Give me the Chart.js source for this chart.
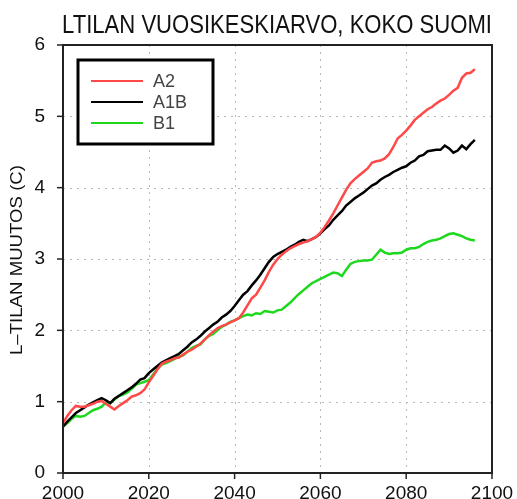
<!DOCTYPE html>
<html>
<head>
    <title>LTILAN VUOSIKESKIARVO, KOKO SUOMI</title>
    <style>
        body {
            margin: 0;
            background-color: #fff;
        }
    </style>
    <script src="https://cdn.jsdelivr.net/npm/chart.js"></script>
</head>
<body>
    <canvas id="chart" width="517" height="499"></canvas>
    <script>
        var titleText = 'LTILAN VUOSIKESKIARVO, KOKO SUOMI';
        var yTitleText = 'L\u2013TILAN MUUTOS (C)';

        var years = [2000, 2001, 2002, 2003, 2004, 2005, 2006, 2007, 2008, 2009,
                     2010, 2011, 2012, 2013, 2014, 2015, 2016, 2017, 2018, 2019,
                     2020, 2021, 2022, 2023, 2024, 2025, 2026, 2027, 2028, 2029,
                     2030, 2031, 2032, 2033, 2034, 2035, 2036, 2037, 2038, 2039,
                     2040, 2041, 2042, 2043, 2044, 2045, 2046, 2047, 2048, 2049,
                     2050, 2051, 2052, 2053, 2054, 2055, 2056, 2057, 2058, 2059,
                     2060, 2061, 2062, 2063, 2064, 2065, 2066, 2067, 2068, 2069,
                     2070, 2071, 2072, 2073, 2074, 2075, 2076, 2077, 2078, 2079,
                     2080, 2081, 2082, 2083, 2084, 2085, 2086, 2087, 2088, 2089,
                     2090, 2091, 2092, 2093, 2094, 2095, 2096];

        var a2 = [0.70, 0.80, 0.88, 0.94, 0.93, 0.93, 0.95, 0.97, 1.00, 1.01,
                  0.97, 0.93, 0.89, 0.94, 0.98, 1.02, 1.07, 1.09, 1.12, 1.17,
                  1.27, 1.36, 1.45, 1.53, 1.56, 1.58, 1.61, 1.62, 1.66, 1.70,
                  1.73, 1.77, 1.81, 1.87, 1.93, 1.98, 2.03, 2.06, 2.08, 2.11,
                  2.14, 2.17, 2.25, 2.35, 2.45, 2.50, 2.60, 2.70, 2.82, 2.92,
                  3.00, 3.06, 3.11, 3.15, 3.18, 3.21, 3.23, 3.25, 3.28, 3.31,
                  3.37, 3.45, 3.54, 3.64, 3.75, 3.86, 3.97, 4.06, 4.12, 4.17,
                  4.22, 4.27, 4.35, 4.37, 4.38, 4.41, 4.47, 4.57, 4.69, 4.74,
                  4.80, 4.87, 4.95, 5.00, 5.05, 5.10, 5.13, 5.18, 5.22, 5.25,
                  5.30, 5.36, 5.40, 5.54, 5.60, 5.61, 5.66];

        var a1b = [0.65, 0.72, 0.78, 0.84, 0.88, 0.92, 0.96, 0.99, 1.02, 1.05,
                   1.02, 0.98, 1.04, 1.08, 1.12, 1.16, 1.20, 1.25, 1.31, 1.33,
                   1.40, 1.45, 1.50, 1.55, 1.58, 1.61, 1.64, 1.67, 1.72, 1.77,
                   1.83, 1.87, 1.92, 1.98, 2.03, 2.08, 2.12, 2.18, 2.22, 2.27,
                   2.34, 2.42, 2.50, 2.55, 2.63, 2.70, 2.78, 2.87, 2.96, 3.03,
                   3.07, 3.10, 3.13, 3.17, 3.20, 3.24, 3.27, 3.25, 3.28, 3.31,
                   3.36, 3.42, 3.47, 3.55, 3.61, 3.67, 3.75, 3.80, 3.85, 3.89,
                   3.93, 3.98, 4.03, 4.06, 4.11, 4.15, 4.18, 4.22, 4.25, 4.28,
                   4.30, 4.35, 4.38, 4.44, 4.46, 4.51, 4.52, 4.53, 4.53, 4.59,
                   4.55, 4.49, 4.52, 4.59, 4.54, 4.61, 4.67];

        var b1 = [0.65, 0.70, 0.76, 0.80, 0.79, 0.80, 0.84, 0.88, 0.90, 0.93,
                  0.99, 0.98, 1.03, 1.08, 1.10, 1.13, 1.18, 1.24, 1.26, 1.28,
                  1.30, 1.38, 1.46, 1.52, 1.54, 1.57, 1.60, 1.63, 1.65, 1.70,
                  1.75, 1.78, 1.80, 1.87, 1.92, 1.95, 2.00, 2.05, 2.08, 2.12,
                  2.14, 2.17, 2.20, 2.22, 2.21, 2.24, 2.23, 2.27, 2.26, 2.25,
                  2.28, 2.29, 2.34, 2.39, 2.45, 2.51, 2.56, 2.61, 2.66, 2.69,
                  2.72, 2.75, 2.78, 2.81, 2.80, 2.76, 2.85, 2.93, 2.96, 2.97,
                  2.98, 2.98, 2.99, 3.06, 3.13, 3.09, 3.07, 3.08, 3.08, 3.09,
                  3.13, 3.15, 3.15, 3.17, 3.21, 3.24, 3.26, 3.27, 3.29, 3.32,
                  3.35, 3.36, 3.34, 3.32, 3.29, 3.27, 3.26];

        var seriesNames = ['A2', 'A1B', 'B1'];
        var seriesColors = ['#ff4848', '#000000', '#1ed81e'];
        var xTicks = [2000, 2020, 2040, 2060, 2080, 2100];
        var yTicks = [0, 1, 2, 3, 4, 5, 6];

        function points(values) {
            return values.map(function(v, i) { return { x: years[i], y: v }; });
        }

        // grid, frame, tick marks, legend and titles drawn by hand
        var decorations = {
            id: 'decorations',
            beforeDatasetsDraw: function(chart) {
                var ctx = chart.ctx, a = chart.chartArea;
                var xs = chart.scales.x, ys = chart.scales.y;
                ctx.save();
                ctx.strokeStyle = '#b8b8b8';
                ctx.lineWidth = 1;
                ctx.setLineDash([2, 5]);
                xTicks.slice(1, -1).forEach(function(t) {
                    var px = Math.round(xs.getPixelForValue(t)) + 0.5;
                    ctx.beginPath(); ctx.moveTo(px, a.top); ctx.lineTo(px, a.bottom); ctx.stroke();
                });
                yTicks.slice(1, -1).forEach(function(t) {
                    var py = Math.round(ys.getPixelForValue(t)) + 0.5;
                    ctx.beginPath(); ctx.moveTo(a.left, py); ctx.lineTo(a.right, py); ctx.stroke();
                });
                ctx.restore();
            },
            afterDraw: function(chart) {
                var ctx = chart.ctx, a = chart.chartArea;
                var xs = chart.scales.x, ys = chart.scales.y;
                ctx.save();

                // frame
                ctx.strokeStyle = '#222';
                ctx.lineWidth = 2;
                ctx.strokeRect(a.left, a.top, a.right - a.left, a.bottom - a.top);

                // tick marks
                ctx.lineWidth = 1.5;
                xTicks.forEach(function(t) {
                    var px = xs.getPixelForValue(t);
                    ctx.beginPath(); ctx.moveTo(px, a.bottom); ctx.lineTo(px, a.bottom + 6); ctx.stroke();
                });
                yTicks.forEach(function(t) {
                    var py = ys.getPixelForValue(t);
                    ctx.beginPath(); ctx.moveTo(a.left - 6, py); ctx.lineTo(a.left, py); ctx.stroke();
                });

                // legend
                ctx.fillStyle = '#fff';
                ctx.fillRect(78, 60, 135, 84);
                ctx.strokeStyle = '#000';
                ctx.lineWidth = 3;
                ctx.strokeRect(78, 60, 135, 84);
                ctx.font = '18px "Liberation Sans", Arial, sans-serif';
                ctx.textBaseline = 'middle';
                chart.data.datasets.forEach(function(ds, i) {
                    var y = 81 + i * 21;
                    ctx.strokeStyle = ds.borderColor;
                    ctx.lineWidth = 2;
                    ctx.beginPath(); ctx.moveTo(91, y); ctx.lineTo(143, y); ctx.stroke();
                    ctx.fillStyle = '#444';
                    ctx.fillText(ds.label, 153, y + 1);
                });

                // title, squeezed to the plot width
                ctx.fillStyle = '#111';
                ctx.textBaseline = 'alphabetic';
                ctx.font = '25px "Liberation Sans", Arial, sans-serif';
                var w = ctx.measureText(titleText).width;
                ctx.save();
                ctx.translate(62, 33);
                ctx.scale(430 / w, 1);
                ctx.fillText(titleText, 0, 0);
                ctx.restore();

                // y axis title
                ctx.font = '17px "Liberation Sans", Arial, sans-serif';
                ctx.textAlign = 'center';
                ctx.textBaseline = 'middle';
                var w2 = ctx.measureText(yTitleText).width;
                ctx.save();
                ctx.translate(17, 260);
                ctx.rotate(-Math.PI / 2);
                ctx.scale(190 / w2, 1);
                ctx.fillText(yTitleText, 0, 0);
                ctx.restore();

                ctx.restore();
            }
        };

        new Chart(document.getElementById('chart'), {
            type: 'line',
            data: {
                datasets: seriesNames.map(function(name, i) {
                    return {
                        label: name,
                        data: points([a2, a1b, b1][i]),
                        borderColor: seriesColors[i],
                        borderWidth: 2.5,
                        pointRadius: 0,
                        tension: 0,
                        fill: false
                    };
                })
            },
            options: {
                responsive: false,
                animation: false,
                layout: { padding: { top: 45, right: 25, left: 0, bottom: 0 } },
                plugins: {
                    legend: { display: false },
                    title: { display: false },
                    tooltip: { enabled: false }
                },
                scales: {
                    x: {
                        type: 'linear',
                        min: 2000,
                        max: 2100,
                        afterBuildTicks: function(s) { s.ticks = xTicks.map(function(v) { return { value: v }; }); },
                        afterFit: function(s) { s.height = 26; },
                        grid: { display: false },
                        border: { display: false },
                        ticks: {
                            color: '#111',
                            font: { size: 19, family: '"Liberation Sans", Arial, sans-serif' },
                            padding: 1,
                            maxRotation: 0,
                            autoSkip: false,
                            callback: function(v) { return String(v); }
                        }
                    },
                    y: {
                        min: 0,
                        max: 6,
                        afterBuildTicks: function(s) { s.ticks = yTicks.map(function(v) { return { value: v }; }); },
                        afterFit: function(s) { s.width = 63; },
                        grid: { display: false },
                        border: { display: false },
                        ticks: {
                            color: '#111',
                            font: { size: 19, family: '"Liberation Sans", Arial, sans-serif' },
                            padding: 10,
                            callback: function(v) { return String(v); }
                        }
                    }
                }
            },
            plugins: [decorations]
        });
    </script>
</body>
</html>
